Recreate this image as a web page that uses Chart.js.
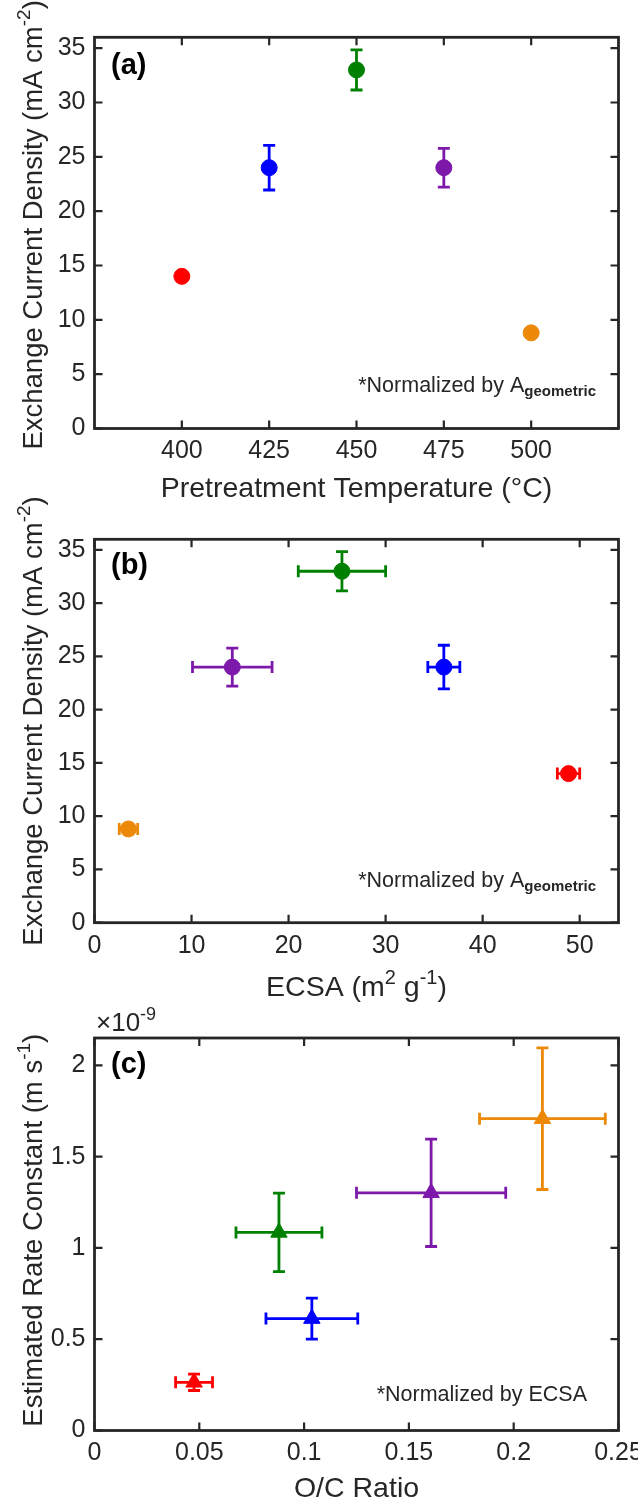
<!DOCTYPE html>
<html>
<head>
<meta charset="utf-8">
<script src="https://cdn.jsdelivr.net/npm/chart.js@4.4.1/dist/chart.umd.min.js"></script>
<style>
  html, body { margin: 0; padding: 0; background: #fff; }
  #page { position: relative; width: 638px; height: 1502px; overflow: hidden; }
  .panel { position: absolute; left: 0; width: 638px; }
</style>
</head>
<body>
<div id="page">
  <div class="panel" style="top:0px;height:505px"><canvas id="chart-a" width="638" height="505"></canvas></div>
  <div class="panel" style="top:490px;height:520px"><canvas id="chart-b" width="638" height="520"></canvas></div>
  <div class="panel" style="top:990px;height:512px"><canvas id="chart-c" width="638" height="512"></canvas></div>
</div>
<script>
/* ---------- data (sample order: red, blue, green, purple, orange) ---------- */

const SAMPLE_COLORS = ["#ff0000", "#0000ff", "#008000", "#7d19aa", "#ed8908"];

// (a) + (b): exchange current density, mA cm^-2
const pretreatTemp = [400, 425, 450, 475, 500];
const currentDensity = [14.0, 24.0, 33.0, 24.0, 8.8];
const currentErr = [0, 2.05, 1.85, 1.78, 0];

// (b): ECSA, m^2 g^-1
const ecsa = [48.85, 36.0, 25.5, 14.2, 3.5];
const ecsaErr = [1.15, 1.65, 4.5, 4.1, 0.95];

// (c): O/C ratio and rate constant (x 1e-9 m s^-1)
const ocRatio = [0.0475, 0.1037, 0.088, 0.1606, 0.2137];
const ocErr = [0.0088, 0.0219, 0.0205, 0.0356, 0.030];
const rateConst = [0.264, 0.613, 1.085, 1.302, 1.708];
const rateErr = [0.045, 0.112, 0.215, 0.294, 0.388];

// tick labels
const ticksTemp = [400, 425, 450, 475, 500];
const ticksDensity = [0, 5, 10, 15, 20, 25, 30, 35];
const ticksEcsa = [0, 10, 20, 30, 40, 50];
const ticksOc = [0, 0.05, 0.1, 0.15, 0.2, 0.25];
const ticksRate = [0, 0.5, 1, 1.5, 2];

/* ---------- helpers ---------- */

const INK = "#262626";
const FONT = "'Liberation Sans', Arial, Helvetica, sans-serif";
const PLOT_LEFT = 94.5;
const PLOT_RIGHT = 618.5;
const TITLE_SIZE = 27.5;
const OFF_B = 490; // page offset of canvas b
const OFF_C = 990; // page offset of canvas c

// parts: [text, mode, bold]  mode 0 = normal, 1 = superscript, -1 = subscript
function richText(ctx, parts, x, y, size, align) {
  const segs = parts.map(([t, mode, bold]) => {
    const s = mode !== 0 ? Math.round(size * 0.7) : size;
    const font = `${bold ? "bold " : ""}${s}px ${FONT}`;
    ctx.font = font;
    return { t, font, w: ctx.measureText(t).width, dy: mode > 0 ? -size * 0.42 : mode < 0 ? size * 0.2 : 0 };
  });
  const total = segs.reduce((a, s) => a + s.w, 0);
  let cx = align === "center" ? x - total / 2 : align === "right" ? x - total : x;
  ctx.textAlign = "left";
  ctx.textBaseline = "alphabetic";
  ctx.fillStyle = INK;
  segs.forEach((s) => {
    ctx.font = s.font;
    ctx.fillText(s.t, cx, y + s.dy);
    cx += s.w;
  });
}

function fmt(v) {
  return String(+Number(v).toFixed(4));
}

/* ---------- plugins ---------- */

const errorBars = {
  id: "errorBars",
  afterDatasetsDraw(chart) {
    const o = chart.options.plugins.errorBars;
    const { ctx, scales: { x, y } } = chart;
    const cap = 6;
    ctx.save();
    ctx.lineWidth = 2.8;
    o.xs.forEach((xv, i) => {
      const px = x.getPixelForValue(xv);
      const py = y.getPixelForValue(o.ys[i]);
      ctx.strokeStyle = SAMPLE_COLORS[i];
      ctx.beginPath();
      if (o.yErr && o.yErr[i] > 0) {
        const y1 = y.getPixelForValue(o.ys[i] + o.yErr[i]);
        const y2 = y.getPixelForValue(o.ys[i] - o.yErr[i]);
        ctx.moveTo(px, y1); ctx.lineTo(px, y2);
        ctx.moveTo(px - cap, y1); ctx.lineTo(px + cap, y1);
        ctx.moveTo(px - cap, y2); ctx.lineTo(px + cap, y2);
      }
      if (o.xErr && o.xErr[i] > 0) {
        const x1 = x.getPixelForValue(xv - o.xErr[i]);
        const x2 = x.getPixelForValue(xv + o.xErr[i]);
        ctx.moveTo(x1, py); ctx.lineTo(x2, py);
        ctx.moveTo(x1, py - cap); ctx.lineTo(x1, py + cap);
        ctx.moveTo(x2, py - cap); ctx.lineTo(x2, py + cap);
      }
      ctx.stroke();
    });
    ctx.restore();
  },
};

// matlab style box with inward ticks on all four sides
const axesBox = {
  id: "axesBox",
  afterDraw(chart) {
    const { ctx, chartArea: a, scales: { x, y } } = chart;
    const len = 8;
    ctx.save();
    ctx.strokeStyle = INK;
    ctx.lineWidth = 2.2;
    ctx.beginPath();
    x.ticks.forEach((t) => {
      const px = x.getPixelForValue(t.value);
      ctx.moveTo(px, a.bottom); ctx.lineTo(px, a.bottom - len);
      ctx.moveTo(px, a.top); ctx.lineTo(px, a.top + len);
    });
    y.ticks.forEach((t) => {
      const py = y.getPixelForValue(t.value);
      ctx.moveTo(a.left, py); ctx.lineTo(a.left + len, py);
      ctx.moveTo(a.right, py); ctx.lineTo(a.right - len, py);
    });
    ctx.stroke();
    ctx.lineWidth = 2.8;
    ctx.strokeRect(a.left, a.top, a.right - a.left, a.bottom - a.top);
    ctx.restore();
  },
};

/* ---------- chart builder ---------- */

function makePanel(id, p) {
  const canvas = document.getElementById(id);
  const H = canvas.height;
  const tickFont = { family: FONT, size: 25 };
  return new Chart(canvas, {
    type: "scatter",
    data: {
      datasets: [{
        data: p.xs.map((v, i) => ({ x: v, y: p.ys[i] })),
        pointStyle: p.marker,
        pointRadius: p.radius,
        pointHoverRadius: p.radius,
        pointBackgroundColor: SAMPLE_COLORS,
        pointBorderColor: SAMPLE_COLORS,
        pointBorderWidth: 1,
      }],
    },
    options: {
      responsive: false,
      animation: false,
      devicePixelRatio: 1,
      events: [],
      layout: { padding: { top: p.top, right: 638 - PLOT_RIGHT, left: 0, bottom: 0 } },
      plugins: {
        legend: { display: false },
        tooltip: { enabled: false },
        errorBars: { xs: p.xs, ys: p.ys, xErr: p.xErr, yErr: p.yErr },
      },
      scales: {
        x: {
          type: "linear",
          min: p.xMin,
          max: p.xMax,
          grid: { display: false, drawTicks: false },
          border: { display: false },
          ticks: { font: tickFont, color: INK, padding: 8, maxRotation: 0, autoSkip: false, callback: fmt },
          afterBuildTicks: (s) => { s.ticks = p.xTicks.map((v) => ({ value: v })); },
          afterFit: (s) => { s.height = H - p.bottom; s.paddingLeft = 0; s.paddingRight = 0; },
        },
        y: {
          type: "linear",
          min: p.yMin,
          max: p.yMax,
          grid: { display: false, drawTicks: false },
          border: { display: false },
          ticks: { font: tickFont, color: INK, padding: 9, autoSkip: false, callback: fmt },
          afterBuildTicks: (s) => { s.ticks = p.yTicks.map((v) => ({ value: v })); },
          afterFit: (s) => { s.width = PLOT_LEFT; s.paddingTop = 0; s.paddingBottom = 0; },
        },
      },
    },
    plugins: [errorBars, axesBox, { id: "texts", afterDraw: (c) => p.texts(c.ctx, c.chartArea) }],
  });
}

function yTitle(ctx, parts, area, shift) {
  ctx.save();
  ctx.translate(41.5, (area.top + area.bottom) / 2 - shift);
  ctx.rotate(-Math.PI / 2);
  richText(ctx, parts, 0, 0, TITLE_SIZE, "center");
  ctx.restore();
}

function panelLabel(ctx, text, baseline) {
  ctx.save();
  ctx.font = `bold 29px ${FONT}`;
  ctx.fillStyle = "#000";
  ctx.textAlign = "left";
  ctx.textBaseline = "alphabetic";
  ctx.fillText(text, 111, baseline);
  ctx.restore();
}

/* ---------- panels ---------- */

makePanel("chart-a", {
  xs: pretreatTemp, ys: currentDensity, yErr: currentErr,
  xMin: 375, xMax: 525, yMin: 0, yMax: 36,
  xTicks: ticksTemp, yTicks: ticksDensity,
  marker: "circle", radius: 8,
  top: 37.3, bottom: 428.5,
  texts(ctx, area) {
    yTitle(ctx, [["Exchange Current Density (mA cm", 0], ["-2", 1], [")", 0]], area, 8);
    richText(ctx, [["Pretreatment Temperature (°C)", 0]], (area.left + area.right) / 2, 497, 28.5, "center");
    panelLabel(ctx, "(a)", 74);
    richText(ctx, [["*Normalized by A", 0], ["geometric", -1, true]], 596, 392, 21.5, "right");
  },
});

makePanel("chart-b", {
  xs: ecsa, ys: currentDensity, xErr: ecsaErr, yErr: currentErr,
  xMin: 0, xMax: 54, yMin: 0, yMax: 36,
  xTicks: ticksEcsa, yTicks: ticksDensity,
  marker: "circle", radius: 8,
  top: 539.3 - OFF_B, bottom: 922.7 - OFF_B,
  texts(ctx, area) {
    yTitle(ctx, [["Exchange Current Density (mA cm", 0], ["-2", 1], [")", 0]], area, 10);
    richText(ctx, [["ECSA (m", 0], ["2", 1], [" g", 0], ["-1", 1], [")", 0]], (area.left + area.right) / 2, 996 - OFF_B, 28.5, "center");
    panelLabel(ctx, "(b)", 574 - OFF_B);
    richText(ctx, [["*Normalized by A", 0], ["geometric", -1, true]], 596, 887 - OFF_B, 21.5, "right");
  },
});

makePanel("chart-c", {
  xs: ocRatio, ys: rateConst, xErr: ocErr, yErr: rateErr,
  xMin: 0, xMax: 0.25, yMin: 0, yMax: 2.15,
  xTicks: ticksOc, yTicks: ticksRate,
  marker: "triangle", radius: 9.5,
  top: 1038 - OFF_C, bottom: 1430.5 - OFF_C,
  texts(ctx, area) {
    yTitle(ctx, [["Estimated Rate Constant (m s", 0], ["-1", 1], [")", 0]], area, 4);
    richText(ctx, [["O/C Ratio", 0]], (area.left + area.right) / 2, 1497 - OFF_C, 28.5, "center");
    panelLabel(ctx, "(c)", 1073 - OFF_C);
    richText(ctx, [["*Normalized by ECSA", 0]], 587, 1401 - OFF_C, 21.5, "right");
    richText(ctx, [["×10", 0], ["-9", 1]], 96, 1031 - OFF_C, 26, "left");
  },
});
</script>
</body>
</html>
